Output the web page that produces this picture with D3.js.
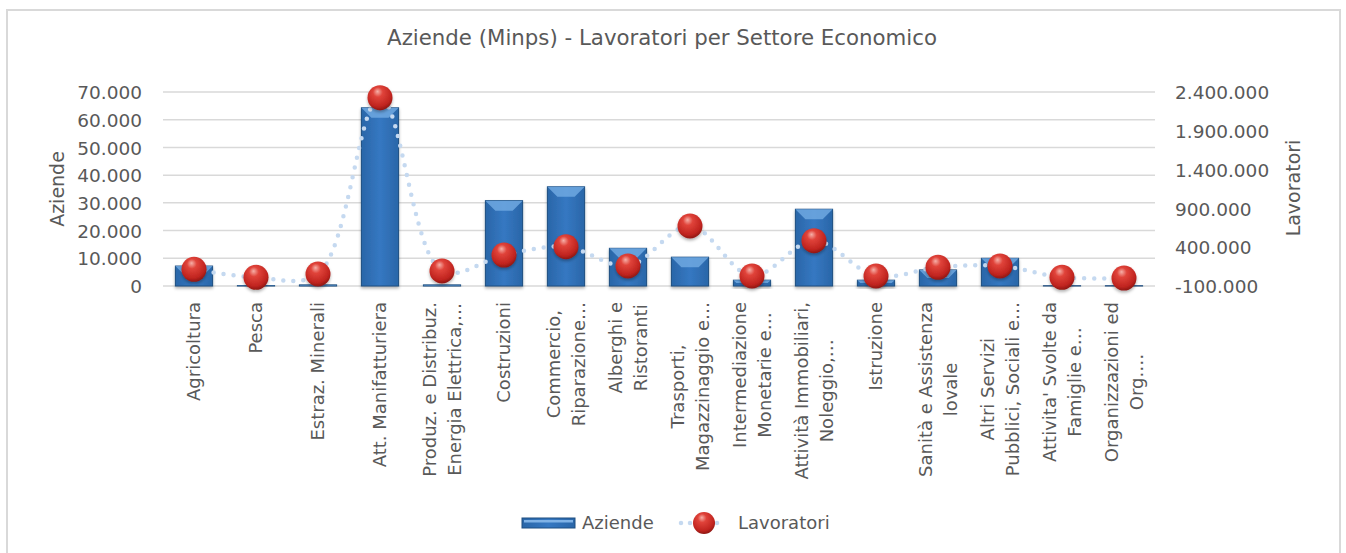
<!DOCTYPE html>
<html>
<head>
<meta charset="utf-8">
<script src="https://cdn.jsdelivr.net/npm/d3@7"></script>
<style>
  body { margin: 0; background: #fff; }
  text { font-family: "DejaVu Sans", sans-serif; fill: #595959; }
</style>
</head>
<body>
<svg id="chart" width="1346" height="553"></svg>
<script>
// categories: each label split in the lines shown on the axis
var categories = [
  ["Agricoltura"],
  ["Pesca"],
  ["Estraz. Minerali"],
  ["Att. Manifatturiera"],
  ["Produz. e Distribuz.", "Energia Elettrica,…"],
  ["Costruzioni"],
  ["Commercio,", "Riparazione…"],
  ["Alberghi e", "Ristoranti"],
  ["Trasporti,", "Magazzinaggio e…"],
  ["Intermediazione", "Monetarie e…"],
  ["Attività Immobiliari,", "Noleggio,…"],
  ["Istruzione"],
  ["Sanità e Assistenza", "lovale"],
  ["Altri Servizi", "Pubblici, Sociali e…"],
  ["Attivita' Svolte da", "Famiglie e…"],
  ["Organizzazioni ed", "Org.…"]
];
var aziende = [7200, 150, 400, 64300, 400, 30800, 35800, 13600, 10400, 2100, 27700, 2100, 5800, 10000, 100, 100];
var lavoratori = [115000, 12000, 55000, 2327000, 93000, 299000, 406000, 158000, 673000, 29000, 484000, 29000, 141000, 158000, 12000, 2000];
var leftTicks = [0, 10000, 20000, 30000, 40000, 50000, 60000, 70000];
var rightTicks = [-100000, 400000, 900000, 1400000, 1900000, 2400000];

var svg = d3.select("#chart");
var m = { left: 163, right: 1155, top: 92, bottom: 286 };

var it = d3.formatLocale({ decimal: ",", thousands: ".", grouping: [3], currency: ["€", ""], minus: "-" });
var fmt = it.format(",d");

var x = d3.scaleBand().domain(d3.range(categories.length)).range([m.left, m.right]).paddingInner(0.4).paddingOuter(0.2);
var xc = function (i) { return x(i) + x.bandwidth() / 2; };
var y = d3.scaleLinear().domain([0, 70000]).range([m.bottom, m.top]);
var y2 = d3.scaleLinear().domain([-100000, 2400000]).range([m.bottom, m.top]);

var defs = svg.append("defs");
var bg = defs.append("linearGradient").attr("id", "barGrad").attr("x1", 0).attr("x2", 1).attr("y1", 0).attr("y2", 0);
bg.append("stop").attr("offset", "0%").attr("stop-color", "#2a66a8");
bg.append("stop").attr("offset", "50%").attr("stop-color", "#3578c2");
bg.append("stop").attr("offset", "100%").attr("stop-color", "#2a66a8");
var sg = defs.append("radialGradient").attr("id", "ball").attr("cx", "45%").attr("cy", "35%").attr("r", "65%").attr("fx", "40%").attr("fy", "25%");
sg.append("stop").attr("offset", "0%").attr("stop-color", "#f6b0a8");
sg.append("stop").attr("offset", "30%").attr("stop-color", "#e0433a");
sg.append("stop").attr("offset", "80%").attr("stop-color", "#c0241f");
sg.append("stop").attr("offset", "100%").attr("stop-color", "#8e1713");
var sh = defs.append("filter").attr("id", "shadow").attr("x", "-50%").attr("y", "-50%").attr("width", "200%").attr("height", "200%");
sh.append("feDropShadow").attr("dx", 0).attr("dy", 2).attr("stdDeviation", 1.5).attr("flood-color", "#000").attr("flood-opacity", 0.3);

// chart frame
svg.append("rect").attr("x", 7).attr("y", 10).attr("width", 1333).attr("height", 560)
  .attr("fill", "#fff").attr("stroke", "#d9d9d9").attr("stroke-width", 2);

// title
svg.append("text").attr("x", 662).attr("y", 45).attr("text-anchor", "middle")
  .style("font-size", "21.3px").text("Aziende (Minps) - Lavoratori per Settore Economico");

// gridlines
svg.append("g").selectAll("line").data(leftTicks).join("line")
  .attr("x1", m.left).attr("x2", m.right)
  .attr("y1", function (d) { return y(d); }).attr("y2", function (d) { return y(d); })
  .attr("stroke", "#d9d9d9").attr("stroke-width", 1.5);

// left axis
var ax = svg.append("g").attr("transform", "translate(" + (m.left - 21) + ",0)")
  .call(d3.axisLeft(y).tickValues(leftTicks).tickFormat(fmt).tickSize(0).tickPadding(0));
ax.select(".domain").remove();
ax.selectAll("text").style("font-size", "18.5px").attr("fill", "#595959").attr("dy", "0.36em");

// right axis
var ax2 = svg.append("g").attr("transform", "translate(" + (m.right + 20) + ",0)")
  .call(d3.axisRight(y2).tickValues(rightTicks).tickFormat(fmt).tickSize(0).tickPadding(0));
ax2.select(".domain").remove();
ax2.selectAll("text").style("font-size", "18.5px").attr("fill", "#595959").attr("dy", "0.36em");

// axis titles
svg.append("text").attr("transform", "translate(64,189) rotate(-90)").attr("text-anchor", "middle")
  .style("font-size", "19px").text("Aziende");
svg.append("text").attr("transform", "translate(1300,188) rotate(-90)").attr("text-anchor", "middle")
  .style("font-size", "19px").text("Lavoratori");

// bars
var bars = svg.append("g").selectAll("g").data(aziende).join("g");
bars.append("rect")
  .attr("x", function (d, i) { return x(i); })
  .attr("y", function (d) { return y(d); })
  .attr("width", x.bandwidth())
  .attr("height", function (d) { return y(0) - y(d); })
  .attr("fill", "url(#barGrad)").attr("stroke", "#1f4e80").attr("stroke-width", 1)
  .attr("filter", "url(#shadow)");
bars.append("path")
  .attr("d", function (d, i) {
    var x0 = x(i), x1 = x(i) + x.bandwidth(), t = y(d), b = Math.min(10, (y(0) - y(d)) / 2);
    return "M" + x0 + "," + t + "L" + x1 + "," + t + "L" + (x1 - b) + "," + (t + b) + "L" + (x0 + b) + "," + (t + b) + "Z";
  })
  .attr("fill", "#6fa8e0").attr("opacity", 0.85);

// line
var line = d3.line().x(function (d, i) { return xc(i); }).y(function (d) { return y2(d); }).curve(d3.curveCatmullRom.alpha(0.5));
svg.append("path").datum(lavoratori).attr("d", line)
  .attr("fill", "none").attr("stroke", "#c5d9f0").attr("stroke-width", 4.5)
  .attr("stroke-dasharray", "0 10").attr("stroke-linecap", "round");

// markers
svg.append("g").selectAll("circle").data(lavoratori).join("circle")
  .attr("cx", function (d, i) { return xc(i); })
  .attr("cy", function (d) { return y2(d); })
  .attr("r", 12.5).attr("fill", "url(#ball)").attr("filter", "url(#shadow)");

// category labels (rotated, block right-aligned against axis)
var lh = 25, top0 = 302;
var labels = svg.append("g").selectAll("g").data(categories).join("g");
labels.each(function (lines, i) {
  var g = d3.select(this);
  var n = lines.length;
  var ts = lines.map(function (s) {
    return g.append("text").style("font-size", "18px").attr("text-anchor", "middle")
      .attr("dy", "0.35em").text(s);
  });
  var maxLen = d3.max(ts, function (t) { return t.node().getComputedTextLength(); });
  var cy = top0 + maxLen / 2;
  ts.forEach(function (t, k) {
    var cx = xc(i) + (k - (n - 1) / 2) * lh;
    t.attr("transform", "translate(" + cx + "," + cy + ") rotate(-90)");
  });
});

// legend
var lg = svg.append("g").attr("transform", "translate(0,523)");
lg.append("rect").attr("x", 522).attr("y", -5).attr("width", 53).attr("height", 10)
  .attr("fill", "url(#barGrad)").attr("stroke", "#1f4e80").attr("stroke-width", 1);
lg.append("rect").attr("x", 524).attr("y", -3).attr("width", 49).attr("height", 2.5).attr("fill", "#7fb2e6");
lg.append("text").attr("x", 582).attr("y", 0).attr("dy", "0.35em").style("font-size", "18px").text("Aziende");
lg.append("line").attr("x1", 681).attr("x2", 726).attr("y1", 0).attr("y2", 0)
  .attr("stroke", "#c5d9f0").attr("stroke-width", 4.5).attr("stroke-dasharray", "0 9").attr("stroke-linecap", "round");
lg.append("circle").attr("cx", 704).attr("cy", 0).attr("r", 11).attr("fill", "url(#ball)");
lg.append("text").attr("x", 738).attr("y", 0).attr("dy", "0.35em").style("font-size", "18px").text("Lavoratori");
</script>
</body>
</html>
